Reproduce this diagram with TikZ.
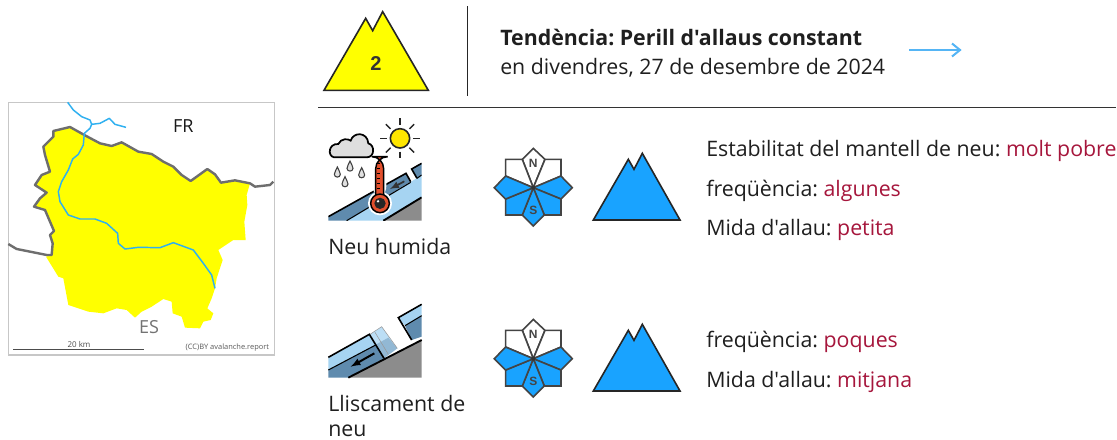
\documentclass[tikz,border=0pt]{standalone}
\usepackage{fontspec}
\usetikzlibrary{calc,arrows.meta}
\setmainfont{Open Sans}
\newfontfamily\osans{Open Sans}
\newfontfamily\iconfont{Liberation Sans}
\definecolor{avblue}{HTML}{19A3FF}
\definecolor{riverblue}{HTML}{2FB0F0}
\definecolor{trendblue}{HTML}{55B5F5}
\definecolor{avred}{HTML}{A6163C}
\definecolor{bordergrey}{HTML}{6E6E6E}
\definecolor{iconline}{HTML}{444444}
\definecolor{steel}{HTML}{5F8BAE}
\definecolor{ice}{HTML}{A6D4F2}
\definecolor{ground}{HTML}{8C8C8C}
\definecolor{avyellow}{HTML}{FFFF00}
\definecolor{sunyellow}{HTML}{FFE600}
\definecolor{thermo}{HTML}{E2502D}
\tikzset{
  txt/.style={anchor=base west,inner sep=0pt,font=\osans\frenchspacing\fontsize{16pt}{19pt}\selectfont,text=black!88},
  boldtxt/.style={txt,font=\osans\frenchspacing\fontsize{16pt}{19pt}\selectfont\bfseries},
  seg/.style={draw=iconline,line width=1.2pt,line join=miter},
  zoomed/.style={x=0.25pt,y=-0.25pt},
  rose/.pic={
    \begin{scope}[zoomed]
      \path[seg,fill=white] (0,0)--(-33,-85)--(0,-118)--(35,-85)--cycle;
      \path[seg,fill=white] (0,0)--(35,-85)--(83,-85)--(83,-35)--cycle;
      \path[seg,fill=white] (0,0)--(-33,-85)--(-83,-85)--(-83,-35)--cycle;
      \path[seg,fill=avblue] (0,0)--(83,-35)--(117,0)--(83,34)--cycle;
      \path[seg,fill=avblue] (0,0)--(83,34)--(83,82)--(33,82)--cycle;
      \path[seg,fill=avblue] (0,0)--(33,82)--(0,115)--(-33,82)--cycle;
      \path[seg,fill=avblue] (0,0)--(-33,82)--(-83,82)--(-83,34)--cycle;
      \path[seg,fill=avblue] (0,0)--(-83,34)--(-117,0)--(-83,-35)--cycle;
      \fill[black!80] (0,0) circle (6);
      \node[inner sep=0pt,font=\iconfont\bfseries\fontsize{9pt}{9pt}\selectfont,text=iconline] at (0,-72) {N};
      \node[inner sep=0pt,font=\iconfont\bfseries\fontsize{9pt}{9pt}\selectfont,text=iconline] at (0,68) {S};
    \end{scope}
  },
  peak/.pic={
    \begin{scope}[zoomed]
      \path[draw=black!85,line width=1.2pt,fill=avblue,line join=miter] (325,240)--(430,58)--(447,88)--(472,40)--(585,240)--cycle;
    \end{scope}
  }
}
\begin{document}
\begin{tikzpicture}[x=0.75pt,y=-0.75pt]
\useasboundingbox (0,0) rectangle (1117,439);
\fill[white] (0,0) rectangle (1117,439);

% ---------- map ----------
\begin{scope}[zoomed,shift={(0,285)}]
  \draw[black!22,line width=0.8pt] (25,22) rectangle (823,780);
  \fill[avyellow,line join=round] (160,108)--(210,96)--(253,120)--(300,145)--(335,153)--(365,142)--(415,170)--(455,177)--(490,200)--(520,215)--(545,240)--(572,258)--(622,222)--(645,238)--(663,263)--(705,256)--(750,265)--(740,300)--(742,330)--(733,380)--(737,435)--(700,435)--(655,465)--(668,495)--(650,550)--(645,580)--(635,610)--(622,640)--(640,655)--(632,675)--(610,680)--(600,700)--(555,698)--(545,665)--(518,655)--(515,620)--(490,612)--(455,635)--(425,650)--(405,668)--(380,645)--(350,640)--(310,655)--(265,650)--(205,630)--(190,550)--(175,545)--(138,485)--(155,480)--(158,445)--(150,420)--(162,408)--(135,345)--(102,335)--(120,310)--(140,293)--(105,270)--(125,240)--(150,230)--(135,180)--(130,155)--(160,125)--cycle;
  \draw[bordergrey,line width=1.8pt,line join=round] (25,447)--(50,462)--(90,470)--(140,480)--(155,480)--(158,445)--(150,420)--(162,408)--(135,345)--(102,335)--(120,310)--(140,293)--(105,270)--(125,240)--(150,230)--(135,180)--(130,155)--(160,125)--(160,108)--(210,96)--(253,120)--(300,145)--(335,153)--(365,142)--(415,170)--(455,177)--(490,200)--(520,215)--(545,240)--(572,258)--(622,222)--(645,238)--(663,263)--(705,256)--(750,265)--(765,275)--(810,270)--(820,260);
  \draw[riverblue,line width=1.1pt,line join=round] (203,22)--(220,45)--(245,65)--(270,75)--(275,88)--(300,85)--(328,70)--(345,88)--(378,97);
  \draw[riverblue,line width=1.1pt,line join=round] (275,88)--(270,100)--(253,115)--(250,150)--(235,178)--(218,192)--(205,225)--(185,260)--(175,290)--(180,320)--(205,360)--(240,372)--(285,372)--(320,385)--(353,415)--(355,445)--(375,462)--(415,457)--(480,458)--(520,443)--(580,465)--(610,505)--(635,540)--(645,580);
  \draw[black!70,line width=1pt] (40,763)--(433,763);
  \node[inner sep=0pt,font=\fontsize{6pt}{6pt}\selectfont,text=black!70] (scale) at (237,748) {20 km};
  \node[inner sep=0pt,anchor=east,font=\fontsize{5.6pt}{6pt}\selectfont,text=black!65] (credit) at (808,757) {(CC)BY avalanche.report};
  \node[inner sep=0pt,font=\fontsize{13.5pt}{14pt}\selectfont,text=black!90] (fr) at (550,93) {FR};
  \node[inner sep=0pt,font=\fontsize{13.5pt}{15pt}\selectfont,text=black!55] (es) at (447,697) {ES};
\end{scope}

% ---------- danger level ----------
\begin{scope}[zoomed,shift={(945,0)}]
  \path[draw=black!85,line width=1.2pt,fill=avyellow,line join=miter] (27,271)--(152,55)--(173,92)--(203,35)--(340,271)--cycle;
  \node[inner sep=0pt,font=\iconfont\bfseries\fontsize{15pt}{16pt}\selectfont,text=black!80] (level) at (183,190) {2};
\end{scope}
\draw[black!85,line width=0.8pt] (467.5,6)--(467.5,96);
\draw[black!80,line width=1pt] (318,107.5)--(1116,107.5);

\node[boldtxt] (tend) at (500,45) {Tendència: Perill d'allaus constant};
\node[txt] (date) at (500,74) {en divendres, 27 de desembre de 2024};
\coordinate (tendA) at (909,50);
\coordinate (tendB) at (961,50);
\draw[trendblue,line width=1.1pt] (tendA)--(tendB);
\draw[trendblue,line width=1.5pt,line join=miter] (952,43.5)--(960,50)--(952,56.5);

% ---------- wet snow icon ----------
\begin{scope}[zoomed,shift={(960,360)}]
  \begin{scope}
    \clip (25,0) rectangle (305,302);
    \fill[ground] (190,302)--(305,232)--(305,302)--cycle;
    \fill[ice] (80,302)--(270,187)--(290,175)--(305,165)--(305,232)--(190,302)--cycle;
    \fill[steel] (25,290)--(258,160)--(272,185)--(80,302)--(25,302)--cycle;
    \fill[steel] (275,147)--(305,130)--(305,165)--(291,175)--cycle;
    \draw[black,line width=1.2pt] (25,290)--(258,160)--(272,185);
    \draw[black,line width=1.2pt] (291,175)--(275,147)--(305,130);
    \draw[black,line width=0.8pt] (80,302)--(272,187);
    \draw[black,line width=0.8pt] (291,175)--(305,165);
    \draw[black,line width=1.4pt] (190,302)--(305,232);
    \draw[black!80,line width=1.3pt,-latex] (253,184)--(210,207);
  \end{scope}
  % sun
  \foreach \a in {0,45,...,315}
    \draw[black!85,line width=1.1pt] ($(240,55)+(\a:40)$)--($(240,55)+(\a:60)$);
  \path[draw=black!85,line width=1.2pt,fill=sunyellow] (240,55) circle (29);
  % cloud
  \path[draw=black,line width=1.3pt,fill=black!13] (42,112) .. controls (22,108) and (25,70) .. (55,72) .. controls (62,55) and (85,55) .. (92,62) .. controls (100,35) and (142,35) .. (145,70) .. controls (165,75) and (165,112) .. (140,112) -- cycle;
  % drops
  \foreach \dx/\dy in {52/158,90/140,125/160,75/187}
    \path[draw=black!75,line width=0.8pt,fill=black!12] (\dx,\dy-17) .. controls (\dx+3,\dy-7) and (\dx+9,\dy-3) .. (\dx+9,\dy+5) .. controls (\dx+9,\dy+16) and (\dx-9,\dy+16) .. (\dx-9,\dy+5) .. controls (\dx-9,\dy-3) and (\dx-3,\dy-7) .. (\dx,\dy-17) -- cycle;
  % thermometer
  \fill[white] (180,250) circle (36);
  \fill[white,rounded corners=10] (158,238) rectangle (199,102);
  \path[draw=black,line width=1.1pt,fill=thermo,rounded corners=9] (167,238) -- (167,110) -- (191,110) -- (191,238);
  \path[draw=black,line width=1.1pt,fill=thermo] (180,250) circle (28);
  \fill[thermo] (168.5,228) rectangle (189.5,245);
  \fill[black!85] (180,250) circle (17);
  \fill[white] (174,244) circle (4);
  \draw[black,line width=0.6pt] (172,130)--(181,130) (172,145)--(181,145) (172,160)--(181,160) (172,175)--(181,175) (172,190)--(181,190) (172,205)--(181,205);
\end{scope}
\node[txt] (nh) at (328,254) {Neu humida};

% ---------- gliding snow icon ----------
\begin{scope}[zoomed,shift={(960,885)}]
  \fill[ground] (110,248)--(85,248)--(305,135)--(305,248)--cycle;
  \fill[ice,opacity=.75] (150,118)--(185,95)--(232,160)--(192,190)--cycle;
  \fill[steel,opacity=.45] (165,150)--(205,128)--(232,160)--(192,190)--cycle;
  \draw[black!40,line width=0.4pt] (150,118)--(185,95)--(232,160) (165,112)--(205,178);
  \fill[ice] (25,187)--(148,118)--(167,150)--(25,225)--cycle;
  \fill[steel] (25,225)--(167,150)--(192,190)--(85,248)--(25,248)--cycle;
  \draw[black,line width=1.2pt] (25,187)--(148,118)--(192,190);
  \draw[black,line width=0.8pt] (25,225)--(167,150);
  \fill[ice] (235,68)--(305,28)--(305,62)--(255,92)--cycle;
  \fill[steel] (255,92)--(305,62)--(305,125)--(275,135)--cycle;
  \draw[black,line width=1.2pt] (305,28)--(235,68)--(275,135);
  \draw[black,line width=0.8pt] (255,92)--(305,62);
  \draw[black,line width=1.4pt] (85,248)--(305,135);
  \draw[black,line width=1.5pt,-latex] (163,175)--(92,215);
\end{scope}
\node[txt] (ls1) at (328,411) {Lliscament de};
\node[txt] (ls2) at (328,436) {neu};

% ---------- aspects and elevations ----------
\pic at (533.3,187.7) {rose};
\pic at (533.3,358.7) {rose};
\begin{scope}[shift={(485,140)}]
  \pic {peak};
\end{scope}
\begin{scope}[shift={(485,311)}]
  \pic {peak};
\end{scope}

% ---------- problem text ----------
\node[txt] (st) at (706,156) {Estabilitat del mantell de neu: \textcolor{avred}{molt pobre}};
\node[txt] (f1) at (706,196) {freqüència: \textcolor{avred}{algunes}};
\node[txt] (m1) at (706,235) {Mida d'allau: \textcolor{avred}{petita}};
\node[txt] (f2) at (706,347) {freqüència: \textcolor{avred}{poques}};
\node[txt] (m2) at (706,387) {Mida d'allau: \textcolor{avred}{mitjana}};
\end{tikzpicture}
\end{document}
